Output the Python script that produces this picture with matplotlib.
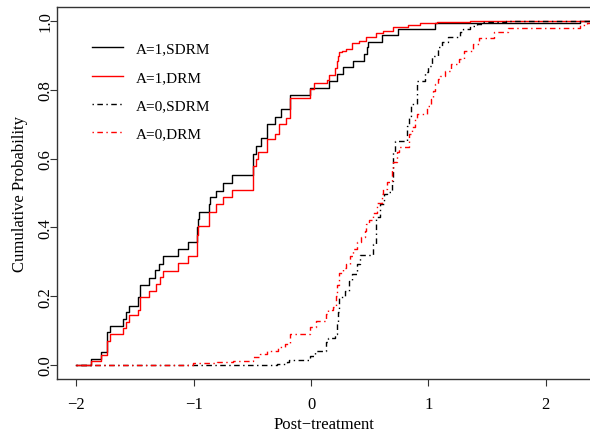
import numpy as np
import matplotlib
matplotlib.use("Agg")
import matplotlib.pyplot as plt

plt.rcParams['font.family'] = ['Liberation Serif', 'DejaVu Serif']

# step points (x = knot, y = value after the jump)
sdrm1_x = [-2.0, -1.876, -1.793, -1.742, -1.714, -1.605, -1.577, -1.549, -1.472, -1.458,
           -1.379, -1.330, -1.293, -1.264, -1.136, -1.046, -0.974, -0.966, -0.955, -0.870,
           -0.861, -0.812, -0.748, -0.671, -0.492, -0.471, -0.429, -0.378, -0.307, -0.258,
           -0.179, -0.009, 0.156, 0.224, 0.270, 0.355, 0.454, 0.475, 0.488, 0.608,
           0.744, 1.057, 2.293]
sdrm1_y = [0.0, 0.017, 0.038, 0.095, 0.114, 0.134, 0.153, 0.172, 0.197, 0.233,
           0.254, 0.277, 0.294, 0.316, 0.337, 0.358, 0.400, 0.424, 0.444, 0.468,
           0.488, 0.507, 0.529, 0.552, 0.613, 0.637, 0.659, 0.701, 0.721, 0.744,
           0.785, 0.805, 0.826, 0.847, 0.866, 0.885, 0.904, 0.923, 0.938, 0.959,
           0.977, 0.994, 1.0]

drm1_x = [-2.0, -1.876, -1.793, -1.742, -1.737, -1.714, -1.605, -1.577, -1.549, -1.472,
          -1.458, -1.379, -1.322, -1.287, -1.264, -1.136, -1.046, -0.974, -0.966, -0.870,
          -0.812, -0.748, -0.671, -0.492, -0.469, -0.449, -0.378, -0.307, -0.270, -0.213,
          -0.179, -0.009, 0.026, 0.139, 0.156, 0.205, 0.219, 0.228, 0.241, 0.262,
          0.298, 0.347, 0.412, 0.469, 0.554, 0.611, 0.702, 0.829, 0.929, 1.072, 1.355]
drm1_y = [0.0, 0.012, 0.029, 0.056, 0.071, 0.090, 0.107, 0.124, 0.144, 0.159,
          0.197, 0.215, 0.235, 0.255, 0.274, 0.296, 0.316, 0.378, 0.405, 0.446,
          0.468, 0.488, 0.510, 0.579, 0.599, 0.620, 0.657, 0.672, 0.700, 0.717,
          0.775, 0.802, 0.819, 0.829, 0.844, 0.862, 0.885, 0.897, 0.909, 0.914,
          0.919, 0.935, 0.943, 0.953, 0.964, 0.972, 0.983, 0.989, 0.994, 0.998, 1.0]

sdrm0_x = [-2.0, -0.292, -0.207, -0.185, -0.009, 0.034, 0.128, 0.147, 0.205, 0.219,
           0.233, 0.241, 0.290, 0.327, 0.347, 0.390, 0.418, 0.526, 0.554, 0.588,
           0.622, 0.645, 0.688, 0.697, 0.716, 0.816, 0.838, 0.850, 0.901, 0.972,
           1.000, 1.029, 1.085, 1.114, 1.170, 1.270, 1.293, 1.355, 1.413, 1.455, 1.66]
sdrm0_y = [0.0, 0.003, 0.008, 0.015, 0.027, 0.042, 0.068, 0.078, 0.090, 0.124,
           0.153, 0.197, 0.216, 0.245, 0.265, 0.294, 0.320, 0.352, 0.429, 0.468,
           0.497, 0.504, 0.536, 0.618, 0.652, 0.696, 0.725, 0.759, 0.826, 0.851,
           0.870, 0.899, 0.924, 0.938, 0.953, 0.967, 0.978, 0.986, 0.991, 0.998, 1.0]

drm0_x = [-2.0, -1.003, -0.804, -0.662, -0.492, -0.435, -0.378, -0.279, -0.222, -0.179,
          -0.009, 0.043, 0.128, 0.147, 0.190, 0.213, 0.224, 0.241, 0.275, 0.298,
          0.332, 0.361, 0.390, 0.424, 0.460, 0.469, 0.497, 0.531, 0.560, 0.603,
          0.616, 0.645, 0.688, 0.697, 0.731, 0.753, 0.838, 0.858, 0.887, 0.901,
          0.991, 1.020, 1.038, 1.057, 1.085, 1.100, 1.142, 1.191, 1.264, 1.304,
          1.384, 1.435, 1.560, 1.682, 2.293, 2.350]
drm0_y = [0.0, 0.005, 0.010, 0.013, 0.024, 0.032, 0.042, 0.051, 0.061, 0.090,
          0.110, 0.129, 0.148, 0.161, 0.168, 0.201, 0.233, 0.267, 0.281, 0.294,
          0.316, 0.337, 0.357, 0.371, 0.390, 0.410, 0.422, 0.442, 0.471, 0.497,
          0.512, 0.531, 0.570, 0.589, 0.618, 0.633, 0.672, 0.691, 0.715, 0.730,
          0.754, 0.773, 0.797, 0.817, 0.831, 0.841, 0.856, 0.875, 0.890, 0.914,
          0.933, 0.950, 0.967, 0.981, 0.988, 0.994]

labels = ['A=1,SDRM', 'A=1,DRM', 'A=0,SDRM', 'A=0,DRM']
xticks = [-2, -1, 0, 1, 2]
yticks = [0.0, 0.2, 0.4, 0.6, 0.8, 1.0]

x_lo, x_hi = -2.165, 2.378
dotdash = (0, (1, 2.5, 4, 2.5))

fig = plt.figure(figsize=(5.9, 4.35), dpi=100)
ax = fig.add_axes([57 / 590, 55 / 435, 533 / 590, 372 / 435])


def step(x, y, **kw):
    # carry the last value on to the right edge
    xs = np.append(x, x_hi + 0.5)
    ys = np.append(y, y[-1])
    ax.plot(xs, ys, drawstyle='steps-post', lw=1.0, **kw)


step(sdrm1_x, sdrm1_y, color='black', label=labels[0])
step(drm1_x, drm1_y, color='red', label=labels[1])
step(sdrm0_x, sdrm0_y, color='black', linestyle=dotdash, label=labels[2])
step(drm0_x, drm0_y, color='red', linestyle=dotdash, label=labels[3])

ax.set_xlim(x_lo, x_hi)
ax.set_ylim(-0.0407, 1.0407)
ax.set_xticks(xticks)
ax.set_xticklabels([str(t).replace('-', '\u2212') for t in xticks])
ax.set_yticks(yticks)
ax.set_yticklabels([f'{t:.1f}' for t in yticks], rotation=90, va='center')
ax.tick_params(labelsize=12, length=5, width=0.8, colors='#333333', labelcolor='black')
ax.tick_params(axis='x', pad=7)
ax.tick_params(axis='y', pad=-2.5)
for s in ['left', 'top', 'bottom']:
    ax.spines[s].set_linewidth(1.0)
    ax.spines[s].set_color('#333333')
ax.spines['right'].set_visible(False)

ax.set_xlabel('Post\u2212treatment', fontsize=12, labelpad=3)
ax.set_ylabel('Cumulative Probability', fontsize=12, labelpad=7)

ax.legend(loc='upper left', bbox_to_anchor=(0.0657, 0.906), frameon=False,
          fontsize=11, handlelength=2.0, handletextpad=0.9, labelspacing=0.95,
          borderpad=0, borderaxespad=0)

fig.savefig('out.png', dpi=100)
